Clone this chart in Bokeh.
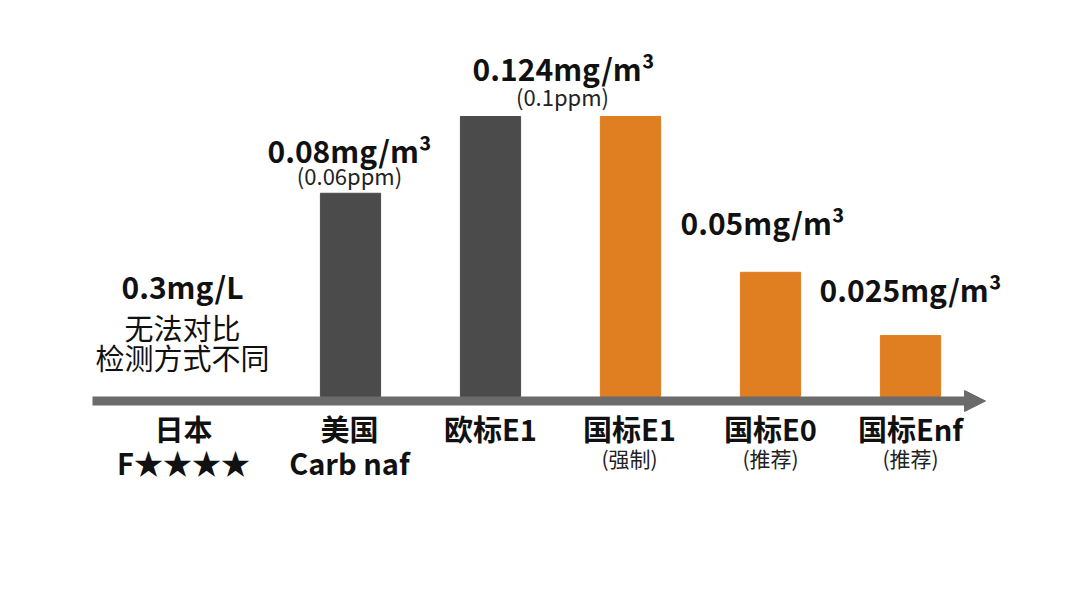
from bokeh.plotting import figure
from bokeh.models import FactorRange, Range1d, Arrow, NormalHead, ColumnDataSource
from bokeh.core.properties import value
from bokeh.embed import file_html
from bokeh.resources import INLINE

# ---------------- data ----------------
categories = ["日本", "美国", "欧标E1", "国标E1", "国标E0", "国标Enf"]
second_lines = ["F★★★★", "Carb naf", "", "(强制)", "(推荐)", "(推荐)"]

bar_categories = ["美国", "欧标E1", "国标E1", "国标E0", "国标Enf"]
bar_heights = [0.090, 0.124, 0.124, 0.055, 0.027]     # drawn heights
bar_groups = ["foreign", "foreign", "china", "china", "china"]

value_categories = ["美国", "欧标E1", "国标E0", "国标Enf"]
value_labels = ["0.08mg/m³", "0.124mg/m³", "0.05mg/m³", "0.025mg/m³"]
ppm_categories = ["美国", "欧标E1"]
ppm_labels = ["(0.06ppm)", "(0.1ppm)"]
japan_lines = ["0.3mg/L", "无法对比", "检测方式不同"]

# ---------------- style ----------------
FONT = value("Noto Sans CJK SC")
COLORS = {"foreign": "#4b4b4b", "china": "#e07e22"}
AXIS_COLOR = "#6b6b6b"
TEXT_COLOR = "#111111"
PX_PER_UNIT = 280 / 0.124
BASE_PX = 396          # pixel row of the baseline inside the plot
H = 592
W = 1064

p = figure(width=W, height=H, output_backend="svg", toolbar_location=None,
           x_range=FactorRange(factors=categories, range_padding=0.5,
                               range_padding_units="absolute"),
           y_range=Range1d(-(H - BASE_PX) / PX_PER_UNIT, BASE_PX / PX_PER_UNIT),
           min_border_left=70, min_border_right=14, min_border_top=0, min_border_bottom=0)
p.axis.visible = False
p.grid.visible = False
p.outline_line_color = None
p.background_fill_color = "white"
p.border_fill_color = "white"

src = ColumnDataSource(dict(x=bar_categories, top=bar_heights,
                            color=[COLORS[g] for g in bar_groups]))
p.vbar(x="x", top="top", bottom=0, width=0.43, color="color", source=src)

# axis arrow
axis_y = -4.5 / PX_PER_UNIT
p.add_layout(Arrow(x_start=-0.343, y_start=axis_y, x_end=6.036, y_end=axis_y,
                   line_width=9, line_color=AXIS_COLOR,
                   end=NormalHead(size=21, fill_color=AXIS_COLOR, line_color=AXIS_COLOR)))

def txt(x, y, t, size, bold=False, dx=0, dy=0, color=TEXT_COLOR):
    p.text(x=[x], y=[y], text=[t], text_font=FONT, text_font_size=f"{size}px",
           text_font_style="bold" if bold else "normal", text_color=color,
           text_align="center", text_baseline="middle", x_offset=dx, y_offset=dy)

height_of = dict(zip(bar_categories, bar_heights))

value_dx = [-1, 73, -8, 0]
value_dy = [-43, -49, -50, -47]
for c, lab, dx, dy in zip(value_categories, value_labels, value_dx, value_dy):
    txt(c, height_of[c], lab, 30, True, dx, dy)

ppm_dx = [-1, 72]
ppm_dy = [-18, -21]
for c, lab, dx, dy in zip(ppm_categories, ppm_labels, ppm_dx, ppm_dy):
    txt(c, height_of[c], lab, 22, False, dx, dy, "#222222")

japan_dy = [-111, -70, -40]
for i, (lab, dy) in enumerate(zip(japan_lines, japan_dy)):
    txt(categories[0], 0, lab, 30 if i == 0 else 29, i == 0, -28, dy)

cat_dx = [-27, -1, 0, -1, 0, 0]
for c, s, dx in zip(categories, second_lines, cat_dx):
    txt(c, 0, c, 29, True, dx, 31)
    if s:
        if s.startswith("("):
            txt(c, 0, s, 21, False, dx, 61, "#222222")
        else:
            txt(c, 0, s, 29, True, dx, 65)

open("out.html", "w").write(file_html(p, INLINE))
